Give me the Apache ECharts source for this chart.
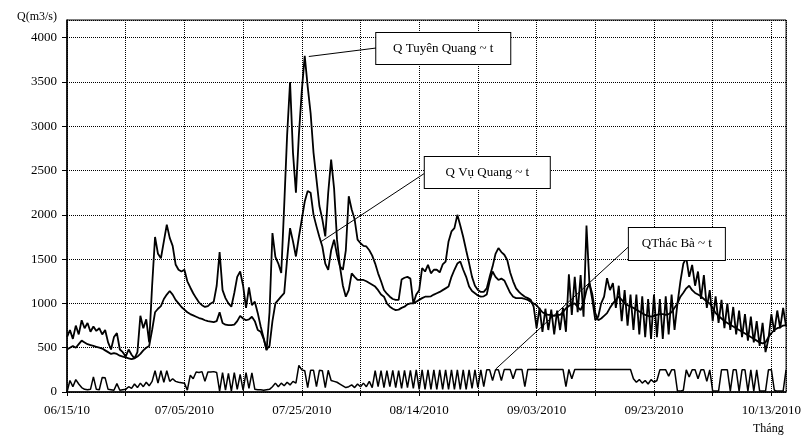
<!DOCTYPE html>
<html>
<head>
<meta charset="utf-8">
<script src="https://cdn.jsdelivr.net/npm/echarts@6/dist/echarts.min.js"></script>
<style>html,body{margin:0;padding:0;background:#fff}#c{width:804px;height:436px}</style>
</head>
<body>
<div id="c"></div>
<script>
// Sampling step of the series (days, 12-hour values starting 06/15/2010)
const STEP = 0.5;
const xTickLabels = ['06/15/10','07/05/2010','07/25/2010','08/14/2010','09/03/2010','09/23/2010','10/13/2010'];
const seriesNames = ['Q Tuyên Quang ~ t','Q Vụ Quang ~ t','QThác Bà ~ t'];

const qTuyenQuang = [
620,700,600,750,650,810,720,780,680,740,690,720,650,700,560,480,620,665,480,450,
400,480,420,380,450,860,720,820,560,1200,1750,1560,1510,1700,1890,1740,1650,1440,1380,1360,
1380,1250,1180,1115,1060,1010,980,960,970,1000,1020,1200,1580,1150,1060,1000,963,1118,1300,1360,
1200,950,1180,980,1020,890,740,610,470,900,1795,1525,1450,1345,2100,2900,3500,2700,2250,2900,
3400,3795,3450,3150,2700,2400,2100,1950,1756,2250,2625,2300,1720,1420,1380,1600,2210,2060,1950,1720,
1680,1650,1643,1600,1540,1450,1340,1250,1152,1110,1076,1050,1040,1040,1270,1290,1300,1280,1000,1100,
1150,1400,1360,1435,1340,1380,1380,1350,1440,1473,1700,1813,1850,2000,1880,1750,1600,1455,1300,1200,
1152,1130,1130,1170,1300,1416,1560,1625,1580,1550,1490,1350,1250,1170,1130,1100,1076,1060,1040,963,
720,950,680,940,700,930,650,920,700,950,680,1330,870,1300,900,1320,850,1880,1228,1040,
812,850,1000,1076,1285,1150,1230,950,1200,800,1150,750,1100,700,1100,650,1080,620,1050,600,
1100,620,1050,600,1080,650,1100,700,1000,1250,1450,1515,1300,1435,1200,1360,1050,1320,950,1150,
800,1080,780,1040,720,1000,700,960,650,920,620,880,580,850,560,800,520,780,450,600,
880,680,920,720,950,740
];

const qVuQuang = [
480,500,520,500,540,580,560,540,530,520,510,500,490,470,450,430,440,430,410,400,
390,380,370,380,400,430,470,500,520,700,900,940,970,1050,1100,1140,1100,1040,1000,960,
930,900,880,865,850,835,825,810,800,795,790,800,900,780,760,755,755,760,800,860,
830,810,820,850,800,700,680,600,480,520,800,1000,1040,1080,1115,1500,1850,1700,1530,1750,
1950,2150,2270,2250,2000,1870,1750,1643,1450,1380,1600,1720,1550,1416,1200,1076,1150,1340,1300,1265,
1265,1265,1250,1230,1210,1190,1150,1100,1076,1000,963,940,925,930,950,963,990,1000,1000,1020,
1040,1060,1076,1076,1080,1100,1115,1130,1150,1170,1190,1300,1380,1450,1473,1380,1300,1190,1140,1115,
1090,1076,1080,1100,1250,1360,1300,1265,1280,1260,1190,1120,1076,1060,1060,1060,1050,1040,1020,1000,
980,940,900,880,870,870,860,870,870,900,945,970,990,1000,960,925,1000,1150,1228,1100,
890,810,830,860,890,950,1000,1040,1076,1040,1000,980,965,950,930,910,890,870,860,850,
860,870,880,880,870,880,900,950,1000,1076,1120,1170,1200,1150,1118,1100,1080,1050,1020,1000,
950,890,860,830,800,780,760,740,720,700,680,660,640,620,600,580,560,550,560,620,
665,700,720,730,750,755
];

const qThacBa = [
0,130,60,140,90,50,30,25,30,170,30,25,165,160,30,25,20,95,20,25,
30,60,40,90,50,100,60,110,70,120,240,100,240,110,240,120,150,120,110,105,
100,20,190,150,225,220,230,120,225,225,230,220,10,220,20,210,10,220,30,200,
20,220,40,215,30,25,25,20,25,30,60,100,60,100,70,110,80,120,100,300,
250,240,50,245,245,60,245,240,50,245,130,120,110,90,70,50,60,80,50,90,
60,100,60,120,50,240,60,240,50,240,60,245,50,240,40,245,50,245,40,250,
30,250,30,250,30,250,30,250,30,250,30,250,30,250,30,250,30,250,40,250,
50,250,60,250,250,130,250,250,130,255,255,255,150,255,255,255,60,255,255,255,
255,255,255,255,255,255,255,255,255,255,60,255,150,255,255,255,255,255,255,255,
255,255,255,255,255,255,255,255,255,255,255,255,255,150,110,140,100,130,90,140,
110,130,250,250,250,180,250,250,10,10,20,250,170,250,250,150,250,250,120,250,
10,10,10,250,250,250,10,250,250,10,250,250,10,250,10,250,10,10,10,250,
250,20,10,10,10,250
];

// Annotation callouts (in data coordinates: [day, value])
const callouts = [
  {text: seriesNames[0], box: [64.1, 3878], size: [134, 31], from: [52.7, 3884], to: [41.2, 3788]},
  {text: seriesNames[1], box: [71.6, 2478], size: [125, 31], from: [61.0, 2473], to: [43.2, 1694]},
  {text: seriesNames[2], box: [103.9, 1671], size: [96, 32], from: [95.8, 1648], to: [73.05, 260]}
];

const FONT = 'Liberation Serif';
const toPairs = arr => arr.map((v, i) => [i * STEP, v]);

const chart = echarts.init(document.getElementById('c'), null, {renderer: 'canvas'});

const baseSeries = [qTuyenQuang, qVuQuang, qThacBa].map((arr, k) => ({
  name: seriesNames[k],
  type: 'line',
  data: toPairs(arr),
  showSymbol: false,
  symbol: 'none',
  lineStyle: {color: '#000', width: k === 2 ? 1.5 : 1.8},
  itemStyle: {color: '#000'},
  animation: false,
  z: 3
}));

// callouts attached to the first series
baseSeries[0].markLine = {
  silent: true,
  symbol: ['none', 'none'],
  animation: false,
  label: {show: false},
  lineStyle: {color: '#000', width: 1, type: 'solid'},
  data: callouts.map(c => [{coord: c.from}, {coord: c.to}])
};
baseSeries[0].markPoint = {
  silent: true,
  animation: false,
  data: callouts.map(c => ({
    coord: c.box,
    symbol: 'circle',
    symbolSize: 1,
    itemStyle: {color: 'rgba(0,0,0,0)'},
    label: {
      show: true, position: 'inside', formatter: c.text,
      color: '#000', fontFamily: FONT, fontSize: 13,
      width: c.size[0], height: c.size[1], lineHeight: c.size[1],
      align: 'center', verticalAlign: 'middle',
      backgroundColor: '#fff', borderColor: '#000', borderWidth: 1, padding: 0
    }
  }))
};

chart.setOption({
  backgroundColor: '#fff',
  animation: false,
  title: [
    {text: 'Q(m3/s)', left: 12, top: 6, textStyle: {fontFamily: FONT, fontSize: 12, fontWeight: 'normal', color: '#000'}},
    {text: 'Tháng', left: 748, top: 418, textStyle: {fontFamily: FONT, fontSize: 12, fontWeight: 'normal', color: '#000'}}
  ],
  grid: {left: 67, right: 14, top: 20, bottom: 44, show: true, borderColor: '#000', borderWidth: 1, backgroundColor: 'transparent'},
  xAxis: {
    type: 'value', min: 0, max: 122.5, interval: 10,
    axisLine: {lineStyle: {color: '#000', width: 1.5}},
    axisTick: {show: true, length: 4, lineStyle: {color: '#000'}},
    axisLabel: {
      color: '#000', fontFamily: FONT, fontSize: 13, margin: 12,
      showMaxLabel: false,
      formatter: v => (Math.abs(v % 20) < 1e-9 ? (xTickLabels[Math.round(v / 20)] || '') : '')
    },
    splitLine: {show: true, lineStyle: {color: '#000', type: 'dotted', width: 1}}
  },
  yAxis: {
    type: 'value', min: 0, max: 4200, interval: 500,
    axisLine: {show: true, lineStyle: {color: '#000', width: 1.5}},
    axisTick: {show: true, length: 5, lineStyle: {color: '#000'}},
    axisLabel: {color: '#000', fontFamily: FONT, fontSize: 13, margin: 10, showMaxLabel: false, formatter: v => String(v)},
    splitLine: {show: true, lineStyle: {color: '#000', type: 'dotted', width: 1}}
  },
  series: baseSeries
});
</script>
</body>
</html>
